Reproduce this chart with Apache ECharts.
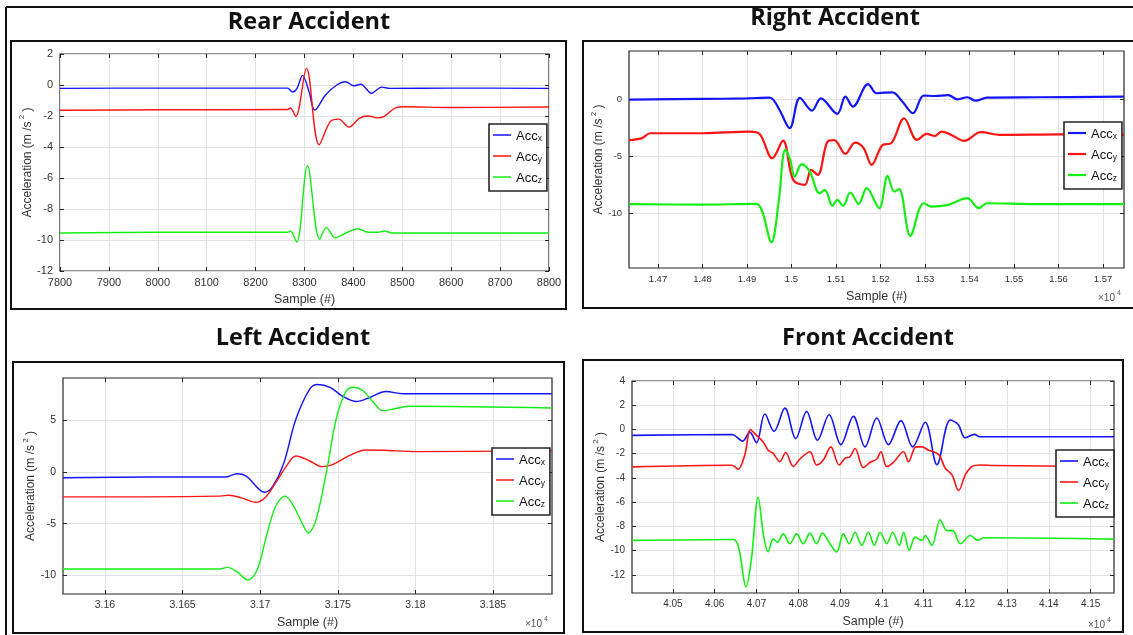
<!DOCTYPE html>
<html><head><meta charset="utf-8">
<script src="https://cdn.jsdelivr.net/npm/echarts@6.0.0/dist/echarts.min.js"></script>
<style>html,body{margin:0;padding:0;background:#fff}#c{width:1133px;height:635px}</style>
</head><body><div id="c"></div>
<script>
// ---------------- DATA ----------------
const seriesNames = ['Acc x', 'Acc y', 'Acc z'];

// Rear Accident
const rearAccX = [[7800,-0.22],[8000,-0.2],[8200,-0.2],[8265,-0.2],[8276,-0.45],[8285,-0.2],[8296,0.62],[8309,-0.4],[8321,-1.62],[8343,-0.64],[8366,0.0],[8384,0.21],[8401,-0.05],[8415,0.05],[8437,-0.53],[8458,-0.14],[8475,-0.22],[8600,-0.2],[8800,-0.22]];
const rearAccY = [[7800,-1.63],[8000,-1.6],[8265,-1.58],[8271,-1.48],[8282,-2.03],[8304,1.07],[8330,-3.85],[8353,-2.35],[8370,-2.2],[8391,-2.72],[8412,-2.15],[8429,-2.0],[8449,-2.12],[8463,-2.02],[8487,-1.46],[8504,-1.4],[8600,-1.45],[8800,-1.42]];
const rearAccZ = [[7800,-9.55],[8000,-9.5],[8266,-9.5],[8271,-9.42],[8284,-10.13],[8306,-5.2],[8331,-9.96],[8345,-9.2],[8363,-9.85],[8388,-9.5],[8409,-9.27],[8430,-9.5],[8450,-9.5],[8463,-9.42],[8480,-9.55],[8600,-9.55],[8800,-9.55]];
const rearXTicks = [7800,7900,8000,8100,8200,8300,8400,8500,8600,8700,8800];
const rearYTicks = [-12,-10,-8,-6,-4,-2,0,2];

// Right Accident
const rightAccX = [[14635,-0.05],[14800,0.0],[14900,0.05],[14950,0.12],[14960,-0.1],[14975,-1.1],[14996,-2.55],[15019,0.1],[15046,-1.02],[15066,0.05],[15103,-1.3],[15121,0.2],[15138,-0.67],[15172,1.3],[15191,0.5],[15209,0.55],[15227,0.58],[15249,-0.23],[15273,-1.25],[15297,0.3],[15322,0.26],[15352,0.33],[15373,-0.03],[15395,0.15],[15414,-0.15],[15439,0.12],[15550,0.15],[15747,0.2]];
const rightAccY = [[14635,-3.6],[14663,-3.45],[14683,-3.0],[14800,-3.0],[14906,-2.86],[14928,-3.05],[14957,-5.19],[14981,-3.65],[15004,-7.1],[15030,-7.52],[15044,-6.2],[15059,-6.65],[15081,-3.73],[15096,-3.6],[15121,-4.8],[15143,-3.82],[15162,-4.3],[15180,-5.77],[15205,-4.02],[15224,-3.88],[15253,-1.69],[15282,-3.59],[15304,-3.06],[15322,-3.24],[15337,-2.86],[15359,-3.15],[15388,-3.67],[15425,-2.9],[15470,-3.15],[15600,-3.1],[15747,-3.15]];
const rightAccZ = [[14635,-9.2],[14800,-9.25],[14920,-9.19],[14933,-9.7],[14955,-12.55],[14971,-9.1],[14986,-4.46],[14997,-5.3],[15007,-6.8],[15023,-5.7],[15041,-6.36],[15063,-8.25],[15075,-7.96],[15092,-9.36],[15103,-8.84],[15116,-9.36],[15132,-8.19],[15151,-9.18],[15169,-7.81],[15197,-9.56],[15216,-6.74],[15231,-8.11],[15242,-7.9],[15267,-11.98],[15297,-9.13],[15315,-9.42],[15352,-9.27],[15395,-8.69],[15421,-9.56],[15439,-9.13],[15550,-9.2],[15747,-9.2]];
const rightXTicks = [14700,14800,14900,15000,15100,15200,15300,15400,15500,15600,15700];
const rightYTicks = [-10,-5,0];

// Left Accident
const leftAccX = [[31573,-0.55],[31629,-0.48],[31674,-0.48],[31679,-0.45],[31685,-0.16],[31691,-0.39],[31703,-1.95],[31708,-1.4],[31715,0.75],[31723,5.1],[31732,8.05],[31737,8.47],[31745,8.2],[31753,7.34],[31762,6.82],[31771,7.24],[31781,7.79],[31792,7.57],[31801,7.57],[31888,7.57]];
const leftAccY = [[31573,-2.4],[31629,-2.4],[31674,-2.33],[31680,-2.24],[31688,-2.5],[31697,-2.92],[31703,-2.5],[31710,-1.04],[31717,0.59],[31723,1.56],[31732,1.07],[31740,0.52],[31747,0.75],[31758,1.63],[31768,2.14],[31779,2.11],[31801,1.98],[31888,2.05]];
const leftAccZ = [[31573,-9.38],[31674,-9.38],[31679,-9.22],[31685,-9.64],[31692,-10.45],[31698,-9.48],[31704,-6.23],[31710,-3.31],[31716,-2.33],[31721,-3.15],[31727,-4.93],[31731,-5.9],[31736,-4.61],[31743,0.26],[31749,5.13],[31755,7.73],[31760,8.21],[31766,7.89],[31773,6.75],[31779,5.94],[31788,6.17],[31796,6.36],[31888,6.2]];
const leftXTicks = [31600,31650,31700,31750,31800,31850];
const leftYTicks = [-10,-5,0,5];

// Front Accident
const frontAccX = [[40402,-0.49],[40641,-0.42],[40667,-0.96],[40684,-0.22],[40700,-1.09],[40720,1.27],[40742,-0.16],[40768,1.76],[40794,-0.76],[40820,1.49],[40846,-0.89],[40874,1.22],[40902,-1.25],[40932,1.08],[40960,-1.44],[40988,0.95],[41016,-1.25],[41046,0.73],[41074,-1.44],[41104,0.6],[41132,-2.9],[41164,0.78],[41183,0.41],[41200,-0.68],[41222,-0.41],[41235,-0.6],[41300,-0.6],[41556,-0.6]];
const frontAccY = [[40402,-3.09],[40641,-2.95],[40656,-3.28],[40672,-2.1],[40686,-0.03],[40700,-0.49],[40716,-1.03],[40728,-1.71],[40740,-1.98],[40756,-2.66],[40770,-1.9],[40788,-3.06],[40804,-2.44],[40828,-1.84],[40844,-2.93],[40860,-2.52],[40878,-1.44],[40898,-2.93],[40912,-2.38],[40924,-2.25],[40936,-1.57],[40956,-3.14],[40972,-2.71],[40988,-2.44],[40998,-1.84],[41012,-3.06],[41028,-2.71],[41052,-1.84],[41064,-2.66],[41082,-1.44],[41096,-1.44],[41112,-1.71],[41136,-2.06],[41152,-3.2],[41168,-3.74],[41184,-5.04],[41200,-3.74],[41216,-3.06],[41236,-2.93],[41268,-2.98],[41556,-3.06]];
const frontAccZ = [[40402,-9.16],[40645,-9.08],[40658,-9.85],[40675,-13.0],[40688,-10.67],[40704,-5.6],[40717,-8.75],[40728,-10.1],[40740,-9.02],[40750,-9.3],[40764,-8.62],[40780,-9.43],[40796,-8.62],[40812,-9.43],[40828,-8.56],[40844,-9.43],[40858,-8.56],[40876,-9.43],[40892,-10.11],[40908,-8.62],[40922,-9.43],[40936,-8.48],[40952,-9.57],[40968,-8.48],[40982,-9.57],[40996,-8.48],[41012,-9.43],[41026,-8.48],[41042,-9.57],[41052,-8.48],[41066,-9.97],[41080,-8.89],[41096,-9.16],[41104,-8.75],[41120,-9.57],[41140,-7.45],[41156,-8.35],[41170,-8.35],[41188,-9.43],[41212,-8.75],[41230,-9.16],[41244,-8.94],[41556,-9.05]];
const frontXTicks = [40500,40600,40700,40800,40900,41000,41100,41200,41300,41400,41500];
const frontYTicks = [-12,-10,-8,-6,-4,-2,0,2,4];

// ---------------- LAYOUT / STYLE ----------------
const colors = ['#1414ff', '#ff1414', '#14ee14'];
const FONT = '"Liberation Sans", Arial, sans-serif';
const sci = v => String(parseFloat((v / 1e4).toFixed(4)));
const plain = v => String(v);

const panels = [
  { title: 'Rear Accident', tx: 309, ty: 22, data: [rearAccX, rearAccY, rearAccZ],
    grid: [60, 54, 489, 217], xMin: 7800, xMax: 8800, yMin: -12, yMax: 2,
    xTicks: rearXTicks, yTicks: rearYTicks, xFmt: plain, lw: 1.4, lfs: 11,
    legend: [489, 124], box: [11, 41, 555, 268], exp: null },
  { title: 'Right Accident', tx: 835, ty: 18, data: [rightAccX, rightAccY, rightAccZ],
    grid: [629, 51, 495, 217], xMin: 14635, xMax: 15747, yMin: -14.8, yMax: 4.2,
    xTicks: rightXTicks, yTicks: rightYTicks, xFmt: sci, lw: 2.2, lfs: 9.5,
    legend: [1064, 122], box: [583, 41, 570, 267], exp: [1098, 298] },
  { title: 'Left Accident', tx: 293, ty: 338, data: [leftAccX, leftAccY, leftAccZ],
    grid: [63, 378, 489, 216], xMin: 31573, xMax: 31888, yMin: -11.8, yMax: 9.1,
    xTicks: leftXTicks, yTicks: leftYTicks, xFmt: sci, lw: 1.4, lfs: 10.5,
    legend: [492, 448], box: [13, 362, 551, 271], exp: [525, 624] },
  { title: 'Front Accident', tx: 868, ty: 338, data: [frontAccX, frontAccY, frontAccZ],
    grid: [632, 381, 482, 212], xMin: 40402, xMax: 41556, yMin: -13.5, yMax: 4,
    xTicks: frontXTicks, yTicks: frontYTicks, xFmt: sci, lw: 1.6, lfs: 10,
    legend: [1056, 450], box: [583, 360, 540, 272], exp: [1088, 625] }
];

const grids = [], xAxes = [], yAxes = [], series = [], legends = [], graphics = [];

graphics.push({ type: 'line', shape: { x1: 6, y1: 7, x2: 1133, y2: 7 }, style: { stroke: '#111', lineWidth: 2 } });
graphics.push({ type: 'line', shape: { x1: 6, y1: 7, x2: 6, y2: 635 }, style: { stroke: '#111', lineWidth: 2 } });

const tickStyle = { color: '#262626', width: 1 };
const gridLine = { show: true, lineStyle: { color: '#e2e2e2', width: 1 } };
const noLine = { show: false, onZero: false };

panels.forEach((p, i) => {
  grids.push({ left: p.grid[0], top: p.grid[1], width: p.grid[2], height: p.grid[3],
    show: true, borderColor: '#262626', borderWidth: 1.2, backgroundColor: '#fff' });
  const lab = { fontSize: p.lfs, color: '#333', fontFamily: FONT };
  xAxes.push({ type: 'value', gridIndex: i, min: p.xMin, max: p.xMax, position: 'bottom',
    axisLine: noLine,
    axisTick: { show: true, inside: true, length: 4, customValues: p.xTicks, lineStyle: tickStyle },
    axisLabel: Object.assign({ customValues: p.xTicks, formatter: p.xFmt, margin: 6 }, lab),
    splitLine: gridLine,
    name: 'Sample (#)', nameLocation: 'middle', nameGap: 22,
    nameTextStyle: { fontSize: 12.5, color: '#333', fontFamily: FONT } });
  xAxes.push({ type: 'value', gridIndex: i, min: p.xMin, max: p.xMax, position: 'top',
    axisLine: noLine,
    axisTick: { show: true, inside: true, length: 4, customValues: p.xTicks, lineStyle: tickStyle },
    axisLabel: { show: false }, splitLine: { show: false } });
  yAxes.push({ type: 'value', gridIndex: i, min: p.yMin, max: p.yMax, position: 'left',
    axisLine: noLine,
    axisTick: { show: true, inside: true, length: 4, customValues: p.yTicks, lineStyle: tickStyle },
    axisLabel: Object.assign({ customValues: p.yTicks, margin: 7 }, lab),
    splitLine: gridLine,
    name: '{a|Acceleration (m /s}{s| 2}{a| )}', nameLocation: 'middle', nameGap: 23, nameRotate: 90,
    nameTextStyle: { rich: {
      a: { fontSize: 12, color: '#333', fontFamily: FONT, lineHeight: 15, verticalAlign: 'bottom' },
      s: { fontSize: 8, color: '#333', fontFamily: FONT, lineHeight: 9, verticalAlign: 'top' } } } });
  yAxes.push({ type: 'value', gridIndex: i, min: p.yMin, max: p.yMax, position: 'right',
    axisLine: noLine,
    axisTick: { show: true, inside: true, length: 4, customValues: p.yTicks, lineStyle: tickStyle },
    axisLabel: { show: false }, splitLine: { show: false } });

  p.data.forEach((d, k) => {
    series.push({ type: 'line', name: seriesNames[k], xAxisIndex: 2 * i, yAxisIndex: 2 * i,
      data: d, smooth: 0.35, symbol: 'none', silent: true, clip: true,
      lineStyle: { width: p.lw, color: colors[k] }, itemStyle: { color: colors[k] } });
  });

  legends.push({ left: p.legend[0], top: p.legend[1], orient: 'vertical', data: seriesNames,
    icon: 'rect', itemWidth: 18, itemHeight: Math.max(1.5, p.lw), itemGap: 8,
    padding: [6, 5, 6, 4], borderColor: '#262626', borderWidth: 1.6, borderRadius: 0,
    backgroundColor: '#fff', selectedMode: false,
    formatter: n => '{a|Acc}{s|' + n.slice(-1) + '}',
    textStyle: { rich: {
      a: { fontSize: 13, color: '#111', fontFamily: FONT, lineHeight: 16, verticalAlign: 'bottom' },
      s: { fontSize: 8.5, color: '#111', fontFamily: FONT, lineHeight: 6, verticalAlign: 'bottom' } } } });

  graphics.push({ type: 'rect', shape: { x: p.box[0], y: p.box[1], width: p.box[2], height: p.box[3] },
    style: { fill: null, stroke: '#111', lineWidth: 2 }, z: 0 });
  graphics.push({ type: 'text', x: p.tx, y: p.ty, style: { text: p.title,
    font: 'bold 23.5px "Open Sans", sans-serif', fill: '#111', align: 'center', verticalAlign: 'middle' } });
  if (p.exp) {
    graphics.push({ type: 'text', x: p.exp[0], y: p.exp[1], style: { text: '\u00d710',
      font: '10px ' + FONT, fill: '#555', align: 'left', verticalAlign: 'middle' } });
    graphics.push({ type: 'text', x: p.exp[0] + 19, y: p.exp[1] - 5, style: { text: '4',
      font: '7px ' + FONT, fill: '#555', align: 'left', verticalAlign: 'middle' } });
  }
});

const chart = echarts.init(document.getElementById('c'), null, { renderer: 'canvas' });
chart.setOption({
  animation: false,
  backgroundColor: '#fff',
  grid: grids, xAxis: xAxes, yAxis: yAxes, series: series, legend: legends,
  graphic: { elements: graphics }
});
</script>
</body></html>
